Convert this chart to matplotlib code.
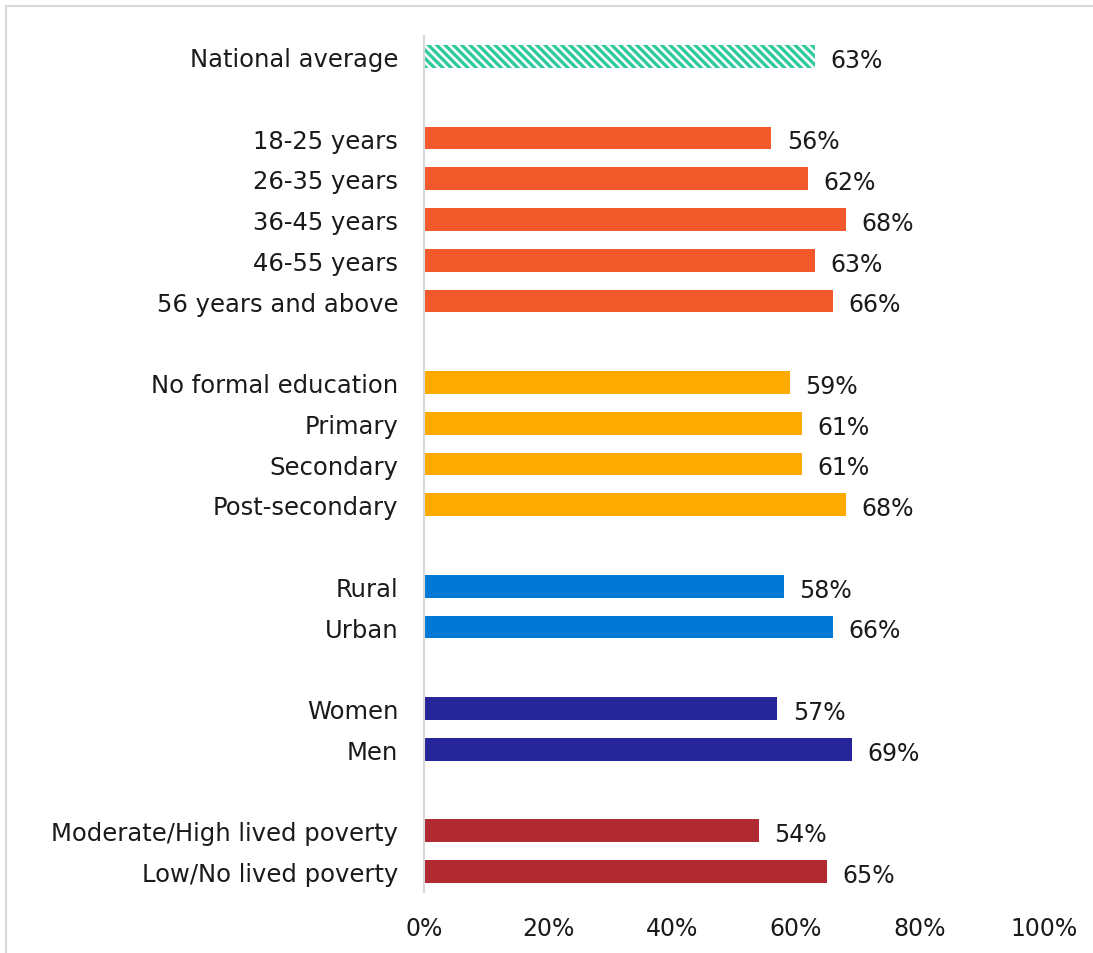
import matplotlib.pyplot as plt
from matplotlib.patches import Rectangle

# Данные
labels = ["National average",
          "18-25 years", "26-35 years", "36-45 years", "46-55 years", "56 years and above",
          "No formal education", "Primary", "Secondary", "Post-secondary",
          "Rural", "Urban",
          "Women", "Men",
          "Moderate/High lived poverty", "Low/No lived poverty"]
values = [63, 56, 62, 68, 63, 66, 59, 61, 61, 68, 58, 66, 57, 69, 54, 65]
rows = [0, 2, 3, 4, 5, 6, 8, 9, 10, 11, 13, 14, 16, 17, 19, 20]
colors = ["#2FCB9F"] + ["#F1582A"] * 5 + ["#FFAA00"] * 4 + ["#0079D6"] * 2 \
         + ["#26269A"] * 2 + ["#B22A31"] * 2
x_ticks = [0, 20, 40, 60, 80, 100]

plt.rcParams["font.family"] = ["DejaVu Sans"]
plt.rcParams["hatch.linewidth"] = 2.4

fig = plt.figure(figsize=(10.93, 9.54), dpi=100)
ax = fig.add_axes([0.388, 0.064, 0.567, 0.897])

for i, (r, v, c) in enumerate(zip(rows, values, colors)):
    if i == 0:
        # национальное среднее — штриховка
        ax.barh(r, v, height=0.56, color="white", edgecolor=c,
                hatch="\\" * 4, linewidth=0)
    else:
        ax.barh(r, v, height=0.56, color=c)
    ax.text(v + 2.5, r + 0.08, f"{v}%", va="center", ha="left", fontsize=17,
            color="#1a1a1a")

ax.set_ylim(20.5, -0.5)
ax.set_xlim(0, 100)
ax.set_yticks(rows)
ax.set_yticklabels(labels, fontsize=17.5, color="#1a1a1a")
ax.set_xticks(x_ticks)
ax.set_xticklabels([f"{t}%" for t in x_ticks], fontsize=17, color="#1a1a1a")
ax.tick_params(axis="y", length=0, pad=18.7)
ax.tick_params(axis="x", length=0, pad=17)

for s in ["top", "right", "bottom"]:
    ax.spines[s].set_visible(False)
ax.spines["left"].set_color("#d9d9d9")
ax.spines["left"].set_linewidth(1.5)

# Рамка вокруг рисунка
fig.patches.append(Rectangle((6 / 1093, -0.1), 1.2, 1.1 - 7 / 954,
                             transform=fig.transFigure, fill=False,
                             edgecolor="#d9d9d9", linewidth=1.5))

fig.savefig("out.png", dpi=100)
